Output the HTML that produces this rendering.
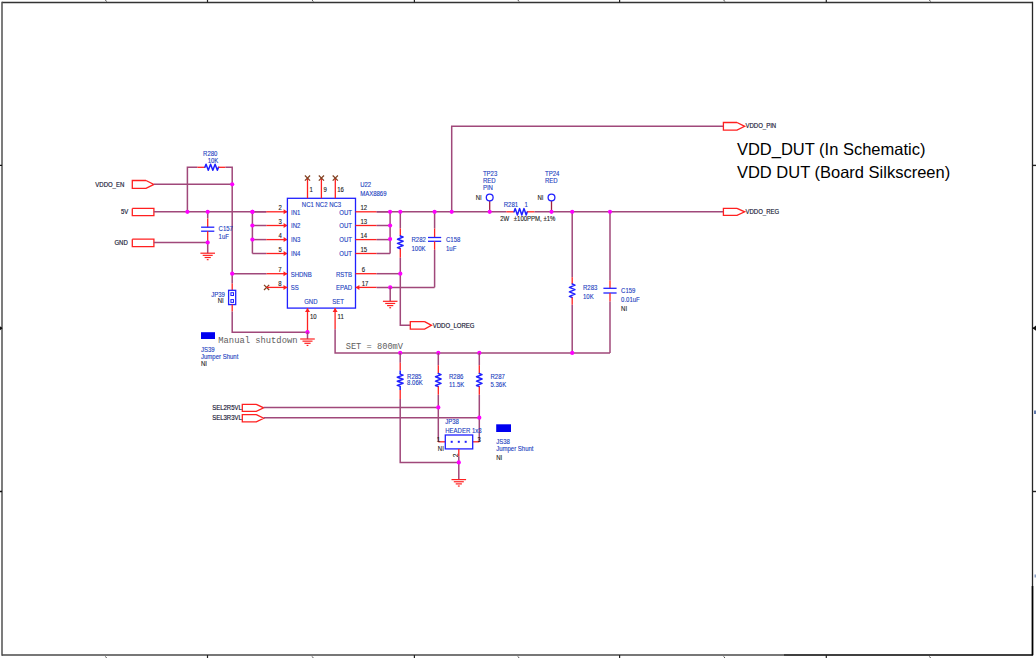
<!DOCTYPE html>
<html><head><meta charset="utf-8"><style>
html,body{margin:0;padding:0;background:#fff;width:1036px;height:658px;overflow:hidden}
svg{display:block}

</style></head><body>
<svg width="1036" height="658" viewBox="0 0 1036 658">
<line x1="2" y1="2.5" x2="1032.5" y2="2.5" stroke="#333" stroke-width="1.3"/>
<line x1="2" y1="1.85" x2="2" y2="655.65" stroke="#505050" stroke-width="1.5"/>
<line x1="1032.5" y1="1.85" x2="1032.5" y2="655.65" stroke="#262626" stroke-width="1.3"/>
<line x1="2" y1="655" x2="784" y2="655" stroke="#4a4a4a" stroke-width="1.3"/>
<line x1="784" y1="655" x2="1032.5" y2="655" stroke="#000" stroke-width="1.6"/>
<line x1="207.5" y1="0" x2="207.5" y2="2.5" stroke="#222" stroke-width="1.2"/>
<line x1="207.5" y1="655" x2="207.5" y2="658" stroke="#222" stroke-width="1.2"/>
<line x1="414.4" y1="0" x2="414.4" y2="2.5" stroke="#222" stroke-width="1.2"/>
<line x1="414.4" y1="655" x2="414.4" y2="658" stroke="#222" stroke-width="1.2"/>
<line x1="619.6" y1="0" x2="619.6" y2="2.5" stroke="#222" stroke-width="1.2"/>
<line x1="619.6" y1="655" x2="619.6" y2="658" stroke="#222" stroke-width="1.2"/>
<line x1="826.3" y1="0" x2="826.3" y2="2.5" stroke="#222" stroke-width="1.2"/>
<line x1="826.3" y1="655" x2="826.3" y2="658" stroke="#222" stroke-width="1.2"/>
<line x1="0" y1="165.4" x2="2" y2="165.4" stroke="#111" stroke-width="1.4"/>
<line x1="1032.5" y1="165.4" x2="1036" y2="165.4" stroke="#222" stroke-width="1.4"/>
<line x1="0" y1="328.2" x2="2" y2="328.2" stroke="#111" stroke-width="1.4"/>
<line x1="1032.5" y1="328.2" x2="1036" y2="328.2" stroke="#222" stroke-width="1.4"/>
<line x1="0" y1="491.5" x2="2" y2="491.5" stroke="#111" stroke-width="1.4"/>
<line x1="1032.5" y1="491.5" x2="1036" y2="491.5" stroke="#222" stroke-width="1.4"/>
<polyline points="146,180.5 132.3,180.5 132.3,188.3 146,188.3 153.9,184.4 146,180.5" stroke="#ff2020" stroke-width="1.3" fill="none" stroke-linejoin="miter"/>
<text x="124.3" y="187.4" font-size="6.6" fill="#202038" text-anchor="end" style="font-family:&quot;Liberation Sans&quot;" stroke="#202038" stroke-width="0.18" transform="matrix(0.91,0,0,1,11.187,0)" >VDDO_EN</text>
<polyline points="132.3,208.4 153.9,208.4 153.9,215.6 132.3,215.6 132.3,208.4" stroke="#ff2020" stroke-width="1.3" fill="none" stroke-linejoin="miter"/>
<text x="128.3" y="213.8" font-size="6.6" fill="#202038" text-anchor="end" style="font-family:&quot;Liberation Sans&quot;" stroke="#202038" stroke-width="0.18" transform="matrix(0.91,0,0,1,11.547,0)" >5V</text>
<polyline points="132.3,239.2 153.9,239.2 153.9,246.6 132.3,246.6 132.3,239.2" stroke="#ff2020" stroke-width="1.3" fill="none" stroke-linejoin="miter"/>
<text x="127.8" y="244.6" font-size="6.6" fill="#202038" text-anchor="end" style="font-family:&quot;Liberation Sans&quot;" stroke="#202038" stroke-width="0.18" transform="matrix(0.91,0,0,1,11.502,0)" >GND</text>
<line x1="153.9" y1="184.3" x2="232.2" y2="184.3" stroke="#a0487a" stroke-width="1.5"/>
<line x1="153.9" y1="211.8" x2="266.3" y2="211.8" stroke="#a0487a" stroke-width="1.5"/>
<line x1="153.9" y1="242.5" x2="207.7" y2="242.5" stroke="#a0487a" stroke-width="1.5"/>
<polyline points="187.4,211.8 187.4,167.3 197.4,167.3" stroke="#a0487a" stroke-width="1.5" fill="none" stroke-linejoin="miter"/>
<line x1="197.4" y1="167.3" x2="204.9" y2="167.3" stroke="#ff2020" stroke-width="1.3"/>
<polyline points="204.90,167.30 206.03,164.30 208.30,170.30 210.57,164.30 212.83,170.30 215.10,164.30 217.37,170.30 218.50,167.30" stroke="#2020ff" stroke-width="1.5" fill="none" stroke-linejoin="round" stroke-linecap="round"/>
<line x1="218.5" y1="167.3" x2="225.5" y2="167.3" stroke="#ff2020" stroke-width="1.3"/>
<polyline points="225.5,167.3 232.2,167.3 232.2,283.6" stroke="#a0487a" stroke-width="1.5" fill="none" stroke-linejoin="miter"/>
<text x="203.1" y="155.7" font-size="6.6" fill="#2040c0" text-anchor="start" style="font-family:&quot;Liberation Sans&quot;" stroke="#2040c0" stroke-width="0.12" transform="matrix(0.91,0,0,1,18.279,0)" >R280</text>
<text x="207.7" y="162.9" font-size="6.6" fill="#2040c0" text-anchor="start" style="font-family:&quot;Liberation Sans&quot;" stroke="#2040c0" stroke-width="0.12" transform="matrix(0.91,0,0,1,18.693,0)" >10K</text>
<line x1="207.7" y1="211.8" x2="207.7" y2="218.4" stroke="#a0487a" stroke-width="1.5"/>
<line x1="207.7" y1="218.4" x2="207.7" y2="227.2" stroke="#ff2020" stroke-width="1.3"/>
<line x1="201.1" y1="227.2" x2="214.29999999999998" y2="227.2" stroke="#2020ff" stroke-width="1.3"/>
<line x1="201.1" y1="231.2" x2="214.29999999999998" y2="231.2" stroke="#2020ff" stroke-width="1.3"/>
<line x1="207.7" y1="231.2" x2="207.7" y2="240" stroke="#ff2020" stroke-width="1.3"/>
<line x1="207.7" y1="240" x2="207.7" y2="253.2" stroke="#a0487a" stroke-width="1.5"/>
<line x1="200.39999999999998" y1="253.2" x2="215.0" y2="253.2" stroke="#ff2020" stroke-width="1.2"/>
<line x1="202.7" y1="255.35" x2="212.7" y2="255.35" stroke="#ff2020" stroke-width="1.2"/>
<line x1="204.6" y1="257.5" x2="210.79999999999998" y2="257.5" stroke="#ff2020" stroke-width="1.2"/>
<line x1="206.79999999999998" y1="259.65" x2="208.6" y2="259.65" stroke="#ff2020" stroke-width="1.2"/>
<text x="218.6" y="230.9" font-size="6.6" fill="#2040c0" text-anchor="start" style="font-family:&quot;Liberation Sans&quot;" stroke="#2040c0" stroke-width="0.12" transform="matrix(0.91,0,0,1,19.674,0)" >C157</text>
<text x="218.6" y="238.6" font-size="6.6" fill="#2040c0" text-anchor="start" style="font-family:&quot;Liberation Sans&quot;" stroke="#2040c0" stroke-width="0.12" transform="matrix(0.91,0,0,1,19.674,0)" >1uF</text>
<line x1="252.4" y1="211.8" x2="252.4" y2="253.5" stroke="#a0487a" stroke-width="1.5"/>
<line x1="252.4" y1="211.8" x2="266.3" y2="211.8" stroke="#a0487a" stroke-width="1.5"/>
<line x1="266.3" y1="211.8" x2="287.4" y2="211.8" stroke="#ff2020" stroke-width="1.3"/>
<polygon points="287.4,211.8 283.59999999999997,209.3 283.59999999999997,214.3" fill="#ff2020"/>
<text x="280.2" y="210.2" font-size="6.6" fill="#1a1a1a" text-anchor="middle" style="font-family:&quot;Liberation Sans&quot;" stroke="#1a1a1a" stroke-width="0.12" transform="matrix(0.91,0,0,1,25.218,0)" >2</text>
<text x="291" y="214.7" font-size="6.6" fill="#2040c0" text-anchor="start" style="font-family:&quot;Liberation Sans&quot;" stroke="#2040c0" stroke-width="0.12" transform="matrix(0.91,0,0,1,26.190,0)" >IN1</text>
<line x1="252.4" y1="225.5" x2="266.3" y2="225.5" stroke="#a0487a" stroke-width="1.5"/>
<line x1="266.3" y1="225.5" x2="287.4" y2="225.5" stroke="#ff2020" stroke-width="1.3"/>
<polygon points="287.4,225.5 283.59999999999997,223.0 283.59999999999997,228.0" fill="#ff2020"/>
<text x="280.2" y="223.9" font-size="6.6" fill="#1a1a1a" text-anchor="middle" style="font-family:&quot;Liberation Sans&quot;" stroke="#1a1a1a" stroke-width="0.12" transform="matrix(0.91,0,0,1,25.218,0)" >3</text>
<text x="291" y="228.4" font-size="6.6" fill="#2040c0" text-anchor="start" style="font-family:&quot;Liberation Sans&quot;" stroke="#2040c0" stroke-width="0.12" transform="matrix(0.91,0,0,1,26.190,0)" >IN2</text>
<line x1="252.4" y1="239.6" x2="266.3" y2="239.6" stroke="#a0487a" stroke-width="1.5"/>
<line x1="266.3" y1="239.6" x2="287.4" y2="239.6" stroke="#ff2020" stroke-width="1.3"/>
<polygon points="287.4,239.6 283.59999999999997,237.1 283.59999999999997,242.1" fill="#ff2020"/>
<text x="280.2" y="238.0" font-size="6.6" fill="#1a1a1a" text-anchor="middle" style="font-family:&quot;Liberation Sans&quot;" stroke="#1a1a1a" stroke-width="0.12" transform="matrix(0.91,0,0,1,25.218,0)" >4</text>
<text x="291" y="242.5" font-size="6.6" fill="#2040c0" text-anchor="start" style="font-family:&quot;Liberation Sans&quot;" stroke="#2040c0" stroke-width="0.12" transform="matrix(0.91,0,0,1,26.190,0)" >IN3</text>
<line x1="252.4" y1="253.5" x2="266.3" y2="253.5" stroke="#a0487a" stroke-width="1.5"/>
<line x1="266.3" y1="253.5" x2="287.4" y2="253.5" stroke="#ff2020" stroke-width="1.3"/>
<polygon points="287.4,253.5 283.59999999999997,251.0 283.59999999999997,256.0" fill="#ff2020"/>
<text x="280.2" y="251.9" font-size="6.6" fill="#1a1a1a" text-anchor="middle" style="font-family:&quot;Liberation Sans&quot;" stroke="#1a1a1a" stroke-width="0.12" transform="matrix(0.91,0,0,1,25.218,0)" >5</text>
<text x="291" y="256.4" font-size="6.6" fill="#2040c0" text-anchor="start" style="font-family:&quot;Liberation Sans&quot;" stroke="#2040c0" stroke-width="0.12" transform="matrix(0.91,0,0,1,26.190,0)" >IN4</text>
<circle cx="252.4" cy="211.8" r="2.1" fill="#ff00ff"/>
<circle cx="252.4" cy="225.5" r="2.1" fill="#ff00ff"/>
<circle cx="252.4" cy="239.6" r="2.1" fill="#ff00ff"/>
<rect x="287.4" y="198.3" width="68.1" height="109.8" stroke="#2020ff" stroke-width="1.3" fill="none"/>
<line x1="307.5" y1="178.1" x2="307.5" y2="198.3" stroke="#ff2020" stroke-width="1.3"/>
<line x1="304.9" y1="175.5" x2="310.1" y2="180.7" stroke="#804020" stroke-width="1.2"/>
<line x1="304.9" y1="180.7" x2="310.1" y2="175.5" stroke="#804020" stroke-width="1.2"/>
<text x="309.5" y="191.9" font-size="6.6" fill="#1a1a1a" text-anchor="start" style="font-family:&quot;Liberation Sans&quot;" stroke="#1a1a1a" stroke-width="0.12" transform="matrix(0.91,0,0,1,27.855,0)" >1</text>
<line x1="321.4" y1="178.1" x2="321.4" y2="198.3" stroke="#ff2020" stroke-width="1.3"/>
<line x1="318.79999999999995" y1="175.5" x2="324.0" y2="180.7" stroke="#804020" stroke-width="1.2"/>
<line x1="318.79999999999995" y1="180.7" x2="324.0" y2="175.5" stroke="#804020" stroke-width="1.2"/>
<text x="323.4" y="191.9" font-size="6.6" fill="#1a1a1a" text-anchor="start" style="font-family:&quot;Liberation Sans&quot;" stroke="#1a1a1a" stroke-width="0.12" transform="matrix(0.91,0,0,1,29.106,0)" >9</text>
<line x1="335.3" y1="178.1" x2="335.3" y2="198.3" stroke="#ff2020" stroke-width="1.3"/>
<line x1="332.7" y1="175.5" x2="337.90000000000003" y2="180.7" stroke="#804020" stroke-width="1.2"/>
<line x1="332.7" y1="180.7" x2="337.90000000000003" y2="175.5" stroke="#804020" stroke-width="1.2"/>
<text x="337.3" y="191.9" font-size="6.6" fill="#1a1a1a" text-anchor="start" style="font-family:&quot;Liberation Sans&quot;" stroke="#1a1a1a" stroke-width="0.12" transform="matrix(0.91,0,0,1,30.357,0)" >16</text>
<text x="321.5" y="206.9" font-size="6.6" fill="#2040c0" text-anchor="middle" style="font-family:&quot;Liberation Sans&quot;" stroke="#2040c0" stroke-width="0.12" transform="matrix(0.91,0,0,1,28.935,0)" >NC1 NC2 NC3</text>
<text x="360.2" y="186.9" font-size="6.6" fill="#2040c0" text-anchor="start" style="font-family:&quot;Liberation Sans&quot;" stroke="#2040c0" stroke-width="0.12" transform="matrix(0.91,0,0,1,32.418,0)" >U22</text>
<text x="360.2" y="195.7" font-size="6.6" fill="#2040c0" text-anchor="start" style="font-family:&quot;Liberation Sans&quot;" stroke="#2040c0" stroke-width="0.12" transform="matrix(0.91,0,0,1,32.418,0)" >MAX8869</text>
<line x1="355.5" y1="211.8" x2="376.7" y2="211.8" stroke="#ff2020" stroke-width="1.3"/>
<line x1="376.7" y1="211.8" x2="390.1" y2="211.8" stroke="#a0487a" stroke-width="1.5"/>
<text x="360.5" y="210.2" font-size="6.6" fill="#1a1a1a" text-anchor="start" style="font-family:&quot;Liberation Sans&quot;" stroke="#1a1a1a" stroke-width="0.12" transform="matrix(0.91,0,0,1,32.445,0)" >12</text>
<text x="352" y="214.7" font-size="6.6" fill="#2040c0" text-anchor="end" style="font-family:&quot;Liberation Sans&quot;" stroke="#2040c0" stroke-width="0.12" transform="matrix(0.91,0,0,1,31.680,0)" >OUT</text>
<line x1="355.5" y1="225.5" x2="376.7" y2="225.5" stroke="#ff2020" stroke-width="1.3"/>
<line x1="376.7" y1="225.5" x2="390.1" y2="225.5" stroke="#a0487a" stroke-width="1.5"/>
<text x="360.5" y="223.9" font-size="6.6" fill="#1a1a1a" text-anchor="start" style="font-family:&quot;Liberation Sans&quot;" stroke="#1a1a1a" stroke-width="0.12" transform="matrix(0.91,0,0,1,32.445,0)" >13</text>
<text x="352" y="228.4" font-size="6.6" fill="#2040c0" text-anchor="end" style="font-family:&quot;Liberation Sans&quot;" stroke="#2040c0" stroke-width="0.12" transform="matrix(0.91,0,0,1,31.680,0)" >OUT</text>
<line x1="355.5" y1="239.6" x2="376.7" y2="239.6" stroke="#ff2020" stroke-width="1.3"/>
<line x1="376.7" y1="239.6" x2="390.1" y2="239.6" stroke="#a0487a" stroke-width="1.5"/>
<text x="360.5" y="238.0" font-size="6.6" fill="#1a1a1a" text-anchor="start" style="font-family:&quot;Liberation Sans&quot;" stroke="#1a1a1a" stroke-width="0.12" transform="matrix(0.91,0,0,1,32.445,0)" >14</text>
<text x="352" y="242.5" font-size="6.6" fill="#2040c0" text-anchor="end" style="font-family:&quot;Liberation Sans&quot;" stroke="#2040c0" stroke-width="0.12" transform="matrix(0.91,0,0,1,31.680,0)" >OUT</text>
<line x1="355.5" y1="253.5" x2="376.7" y2="253.5" stroke="#ff2020" stroke-width="1.3"/>
<line x1="376.7" y1="253.5" x2="390.1" y2="253.5" stroke="#a0487a" stroke-width="1.5"/>
<text x="360.5" y="251.9" font-size="6.6" fill="#1a1a1a" text-anchor="start" style="font-family:&quot;Liberation Sans&quot;" stroke="#1a1a1a" stroke-width="0.12" transform="matrix(0.91,0,0,1,32.445,0)" >15</text>
<text x="352" y="256.4" font-size="6.6" fill="#2040c0" text-anchor="end" style="font-family:&quot;Liberation Sans&quot;" stroke="#2040c0" stroke-width="0.12" transform="matrix(0.91,0,0,1,31.680,0)" >OUT</text>
<line x1="390.1" y1="211.8" x2="390.1" y2="253.5" stroke="#a0487a" stroke-width="1.5"/>
<line x1="232.2" y1="273.7" x2="266.6" y2="273.7" stroke="#a0487a" stroke-width="1.5"/>
<line x1="266.6" y1="273.7" x2="287.3" y2="273.7" stroke="#ff2020" stroke-width="1.3"/>
<polygon points="287.3,273.7 283.5,271.2 283.5,276.2" fill="#ff2020"/>
<text x="280" y="272.0" font-size="6.6" fill="#1a1a1a" text-anchor="middle" style="font-family:&quot;Liberation Sans&quot;" stroke="#1a1a1a" stroke-width="0.12" transform="matrix(0.91,0,0,1,25.200,0)" >7</text>
<text x="290.7" y="276.6" font-size="6.6" fill="#2040c0" text-anchor="start" style="font-family:&quot;Liberation Sans&quot;" stroke="#2040c0" stroke-width="0.12" transform="matrix(0.91,0,0,1,26.163,0)" >SHDNB</text>
<circle cx="232.2" cy="273.7" r="2.1" fill="#ff00ff"/>
<line x1="264.0" y1="284.79999999999995" x2="269.20000000000005" y2="290.0" stroke="#804020" stroke-width="1.2"/>
<line x1="264.0" y1="290.0" x2="269.20000000000005" y2="284.79999999999995" stroke="#804020" stroke-width="1.2"/>
<line x1="266.6" y1="287.4" x2="287.3" y2="287.4" stroke="#ff2020" stroke-width="1.3"/>
<polygon points="287.3,287.4 283.5,284.9 283.5,289.9" fill="#ff2020"/>
<text x="280" y="286.0" font-size="6.6" fill="#1a1a1a" text-anchor="middle" style="font-family:&quot;Liberation Sans&quot;" stroke="#1a1a1a" stroke-width="0.12" transform="matrix(0.91,0,0,1,25.200,0)" >8</text>
<text x="290.7" y="290.2" font-size="6.6" fill="#2040c0" text-anchor="start" style="font-family:&quot;Liberation Sans&quot;" stroke="#2040c0" stroke-width="0.12" transform="matrix(0.91,0,0,1,26.163,0)" >SS</text>
<line x1="355.6" y1="273.7" x2="376.6" y2="273.7" stroke="#ff2020" stroke-width="1.3"/>
<line x1="376.6" y1="273.7" x2="400.3" y2="273.7" stroke="#a0487a" stroke-width="1.5"/>
<text x="361.8" y="272.0" font-size="6.6" fill="#1a1a1a" text-anchor="start" style="font-family:&quot;Liberation Sans&quot;" stroke="#1a1a1a" stroke-width="0.12" transform="matrix(0.91,0,0,1,32.562,0)" >6</text>
<text x="352" y="276.6" font-size="6.6" fill="#2040c0" text-anchor="end" style="font-family:&quot;Liberation Sans&quot;" stroke="#2040c0" stroke-width="0.12" transform="matrix(0.91,0,0,1,31.680,0)" >RSTB</text>
<line x1="355.6" y1="287.4" x2="376.6" y2="287.4" stroke="#ff2020" stroke-width="1.3"/>
<polygon points="355.6,287.4 359.40000000000003,284.9 359.40000000000003,289.9" fill="#ff2020"/>
<line x1="376.6" y1="287.4" x2="434.6" y2="287.4" stroke="#a0487a" stroke-width="1.5"/>
<text x="361.8" y="286.0" font-size="6.6" fill="#1a1a1a" text-anchor="start" style="font-family:&quot;Liberation Sans&quot;" stroke="#1a1a1a" stroke-width="0.12" transform="matrix(0.91,0,0,1,32.562,0)" >17</text>
<text x="352" y="290.2" font-size="6.6" fill="#2040c0" text-anchor="end" style="font-family:&quot;Liberation Sans&quot;" stroke="#2040c0" stroke-width="0.12" transform="matrix(0.91,0,0,1,31.680,0)" >EPAD</text>
<text x="304.2" y="304.4" font-size="6.6" fill="#2040c0" text-anchor="start" style="font-family:&quot;Liberation Sans&quot;" stroke="#2040c0" stroke-width="0.12" transform="matrix(0.91,0,0,1,27.378,0)" >GND</text>
<text x="332.2" y="304.4" font-size="6.6" fill="#2040c0" text-anchor="start" style="font-family:&quot;Liberation Sans&quot;" stroke="#2040c0" stroke-width="0.12" transform="matrix(0.91,0,0,1,29.898,0)" >SET</text>
<circle cx="390.2" cy="287.4" r="2.1" fill="#ff00ff"/>
<line x1="390.2" y1="287.4" x2="390.2" y2="301.3" stroke="#a0487a" stroke-width="1.5"/>
<line x1="382.9" y1="301.3" x2="397.5" y2="301.3" stroke="#ff2020" stroke-width="1.2"/>
<line x1="385.2" y1="303.45" x2="395.2" y2="303.45" stroke="#ff2020" stroke-width="1.2"/>
<line x1="387.09999999999997" y1="305.6" x2="393.3" y2="305.6" stroke="#ff2020" stroke-width="1.2"/>
<line x1="389.3" y1="307.75" x2="391.09999999999997" y2="307.75" stroke="#ff2020" stroke-width="1.2"/>
<line x1="232.2" y1="283.6" x2="232.2" y2="290.3" stroke="#ff2020" stroke-width="1.3"/>
<rect x="228.6" y="290.3" width="7.1" height="14.3" stroke="#2020ff" stroke-width="1.3" fill="none"/>
<rect x="230.9" y="292.7" width="2.6" height="2.8" stroke="#2020ff" stroke-width="1.0" fill="none"/>
<rect x="230.9" y="299.6" width="2.6" height="2.8" stroke="#2020ff" stroke-width="1.0" fill="none"/>
<line x1="232.2" y1="304.6" x2="232.2" y2="311.6" stroke="#ff2020" stroke-width="1.3"/>
<polyline points="232.2,311.6 232.2,332.2 307.5,332.2" stroke="#a0487a" stroke-width="1.5" fill="none" stroke-linejoin="miter"/>
<text x="224.9" y="296.6" font-size="6.6" fill="#2040c0" text-anchor="end" style="font-family:&quot;Liberation Sans&quot;" stroke="#2040c0" stroke-width="0.12" transform="matrix(0.91,0,0,1,20.241,0)" >JP39</text>
<text x="223.8" y="303.5" font-size="6.6" fill="#1a1a1a" text-anchor="end" style="font-family:&quot;Liberation Sans&quot;" stroke="#1a1a1a" stroke-width="0.12" transform="matrix(0.91,0,0,1,20.142,0)" >NI</text>
<line x1="307.5" y1="308.1" x2="307.5" y2="332.2" stroke="#ff2020" stroke-width="1.3"/>
<polygon points="307.5,308.1 305.0,311.90000000000003 310.0,311.90000000000003" fill="#ff2020"/>
<text x="310" y="319.4" font-size="6.6" fill="#1a1a1a" text-anchor="start" style="font-family:&quot;Liberation Sans&quot;" stroke="#1a1a1a" stroke-width="0.12" transform="matrix(0.91,0,0,1,27.900,0)" >10</text>
<circle cx="307.5" cy="332.2" r="2.1" fill="#ff00ff"/>
<line x1="307.5" y1="332.2" x2="307.5" y2="339" stroke="#a0487a" stroke-width="1.5"/>
<line x1="300.2" y1="339.0" x2="314.8" y2="339.0" stroke="#ff2020" stroke-width="1.2"/>
<line x1="302.5" y1="341.15" x2="312.5" y2="341.15" stroke="#ff2020" stroke-width="1.2"/>
<line x1="304.4" y1="343.3" x2="310.6" y2="343.3" stroke="#ff2020" stroke-width="1.2"/>
<line x1="306.6" y1="345.45" x2="308.4" y2="345.45" stroke="#ff2020" stroke-width="1.2"/>
<line x1="335.1" y1="308.1" x2="335.1" y2="329.3" stroke="#ff2020" stroke-width="1.3"/>
<polygon points="335.1,308.1 332.6,311.90000000000003 337.6,311.90000000000003" fill="#ff2020"/>
<text x="337.5" y="319.4" font-size="6.6" fill="#1a1a1a" text-anchor="start" style="font-family:&quot;Liberation Sans&quot;" stroke="#1a1a1a" stroke-width="0.12" transform="matrix(0.91,0,0,1,30.375,0)" >11</text>
<polyline points="335.1,329.3 335.1,352.9 610,352.9" stroke="#a0487a" stroke-width="1.5" fill="none" stroke-linejoin="miter"/>
<rect x="201" y="332.2" width="14" height="6.8" stroke="#0000f0" stroke-width="0" fill="#0000f0"/>
<text x="218.3" y="343.4" font-size="8.8" fill="#606060" text-anchor="start" style="font-family:&quot;Liberation Mono&quot;" stroke="#606060" stroke-width="0"  >Manual shutdown</text>
<text x="201" y="352.2" font-size="6.6" fill="#2040c0" text-anchor="start" style="font-family:&quot;Liberation Sans&quot;" stroke="#2040c0" stroke-width="0.12" transform="matrix(0.91,0,0,1,18.090,0)" >JS39</text>
<text x="201" y="358.9" font-size="6.6" fill="#2040c0" text-anchor="start" style="font-family:&quot;Liberation Sans&quot;" stroke="#2040c0" stroke-width="0.12" transform="matrix(0.91,0,0,1,18.090,0)" >Jumper Shunt</text>
<text x="201" y="366.5" font-size="6.6" fill="#1a1a1a" text-anchor="start" style="font-family:&quot;Liberation Sans&quot;" stroke="#1a1a1a" stroke-width="0.12" transform="matrix(0.91,0,0,1,18.090,0)" >NI</text>
<text x="345.7" y="349.4" font-size="8.7" fill="#606060" text-anchor="start" style="font-family:&quot;Liberation Mono&quot;" stroke="#606060" stroke-width="0"  >SET = 800mV</text>
<line x1="376.7" y1="211.8" x2="506.4" y2="211.8" stroke="#a0487a" stroke-width="1.5"/>
<line x1="506.4" y1="211.8" x2="514.1" y2="211.8" stroke="#ff2020" stroke-width="1.3"/>
<polyline points="514.10,211.80 515.20,208.60 517.40,215.00 519.60,208.60 521.80,215.00 524.00,208.60 526.20,215.00 527.30,211.80" stroke="#2020ff" stroke-width="1.5" fill="none" stroke-linejoin="round" stroke-linecap="round"/>
<line x1="527.3" y1="211.8" x2="534.5" y2="211.8" stroke="#ff2020" stroke-width="1.3"/>
<line x1="534.5" y1="211.8" x2="723.4" y2="211.8" stroke="#a0487a" stroke-width="1.5"/>
<polyline points="737,208.3 723.4,208.3 723.4,215.3 737,215.3 744.7,211.8 737,208.3" stroke="#ff2020" stroke-width="1.3" fill="none" stroke-linejoin="miter"/>
<text x="745.5" y="213.8" font-size="6.6" fill="#202038" text-anchor="start" style="font-family:&quot;Liberation Sans&quot;" stroke="#202038" stroke-width="0.18" transform="matrix(0.91,0,0,1,67.095,0)" >VDDO_REG</text>
<polyline points="451.7,211.8 451.7,126.2 723.4,126.2" stroke="#a0487a" stroke-width="1.5" fill="none" stroke-linejoin="miter"/>
<polyline points="737,122.5 723.4,122.5 723.4,130.1 737,130.1 744.7,126.3 737,122.5" stroke="#ff2020" stroke-width="1.3" fill="none" stroke-linejoin="miter"/>
<text x="745.5" y="128.2" font-size="6.6" fill="#202038" text-anchor="start" style="font-family:&quot;Liberation Sans&quot;" stroke="#202038" stroke-width="0.18" transform="matrix(0.91,0,0,1,67.095,0)" >VDDO_PIN</text>
<line x1="400.3" y1="211.8" x2="400.3" y2="228.5" stroke="#a0487a" stroke-width="1.5"/>
<line x1="400.3" y1="228.5" x2="400.3" y2="236" stroke="#ff2020" stroke-width="1.3"/>
<polyline points="400.30,236.00 403.10,237.06 397.50,239.18 403.10,241.29 397.50,243.41 403.10,245.52 397.50,247.64 400.30,248.70" stroke="#2020ff" stroke-width="1.5" fill="none" stroke-linejoin="round" stroke-linecap="round"/>
<line x1="400.3" y1="248.7" x2="400.3" y2="257.8" stroke="#ff2020" stroke-width="1.3"/>
<polyline points="400.3,257.8 400.3,325.3 410.3,325.3" stroke="#a0487a" stroke-width="1.5" fill="none" stroke-linejoin="miter"/>
<circle cx="400.3" cy="273.7" r="2.1" fill="#ff00ff"/>
<text x="411.5" y="241.7" font-size="6.6" fill="#2040c0" text-anchor="start" style="font-family:&quot;Liberation Sans&quot;" stroke="#2040c0" stroke-width="0.12" transform="matrix(0.91,0,0,1,37.035,0)" >R282</text>
<text x="411.5" y="250.6" font-size="6.6" fill="#2040c0" text-anchor="start" style="font-family:&quot;Liberation Sans&quot;" stroke="#2040c0" stroke-width="0.12" transform="matrix(0.91,0,0,1,37.035,0)" >100K</text>
<polyline points="424.6,321.6 410.3,321.6 410.3,329.1 424.6,329.1 431.5,325.35 424.6,321.6" stroke="#ff2020" stroke-width="1.3" fill="none" stroke-linejoin="miter"/>
<text x="432.8" y="328.3" font-size="6.6" fill="#202038" text-anchor="start" style="font-family:&quot;Liberation Sans&quot;" stroke="#202038" stroke-width="0.18" transform="matrix(0.91,0,0,1,38.952,0)" >VDDO_LOREG</text>
<line x1="434.6" y1="211.8" x2="434.6" y2="228.5" stroke="#a0487a" stroke-width="1.5"/>
<line x1="434.6" y1="228.5" x2="434.6" y2="237.5" stroke="#ff2020" stroke-width="1.3"/>
<line x1="428.0" y1="237.5" x2="441.20000000000005" y2="237.5" stroke="#2020ff" stroke-width="1.3"/>
<line x1="428.0" y1="241.3" x2="441.20000000000005" y2="241.3" stroke="#2020ff" stroke-width="1.3"/>
<line x1="434.6" y1="241.3" x2="434.6" y2="249.8" stroke="#ff2020" stroke-width="1.3"/>
<polyline points="434.6,249.8 434.6,287.4" stroke="#a0487a" stroke-width="1.5" fill="none" stroke-linejoin="miter"/>
<text x="446" y="241.7" font-size="6.6" fill="#2040c0" text-anchor="start" style="font-family:&quot;Liberation Sans&quot;" stroke="#2040c0" stroke-width="0.12" transform="matrix(0.91,0,0,1,40.140,0)" >C158</text>
<text x="446" y="250.6" font-size="6.6" fill="#2040c0" text-anchor="start" style="font-family:&quot;Liberation Sans&quot;" stroke="#2040c0" stroke-width="0.12" transform="matrix(0.91,0,0,1,40.140,0)" >1uF</text>
<circle cx="390.1" cy="211.8" r="2.1" fill="#ff00ff"/>
<circle cx="400.3" cy="211.8" r="2.1" fill="#ff00ff"/>
<circle cx="434.6" cy="211.8" r="2.1" fill="#ff00ff"/>
<circle cx="451.7" cy="211.8" r="2.1" fill="#ff00ff"/>
<circle cx="390.1" cy="225.5" r="2.1" fill="#ff00ff"/>
<circle cx="390.1" cy="239.1" r="2.1" fill="#ff00ff"/>
<line x1="489.7" y1="201" x2="489.7" y2="211.8" stroke="#a02040" stroke-width="1.3"/>
<circle cx="489.7" cy="197.5" r="3.4" stroke="#2020ff" stroke-width="1.3" fill="none"/>
<circle cx="489.7" cy="211.8" r="2.1" fill="#ff00ff"/>
<line x1="551.5" y1="201" x2="551.5" y2="211.8" stroke="#a02040" stroke-width="1.3"/>
<circle cx="551.5" cy="197.5" r="3.4" stroke="#2020ff" stroke-width="1.3" fill="none"/>
<circle cx="551.5" cy="211.8" r="2.1" fill="#ff00ff"/>
<text x="482.9" y="176.5" font-size="6.6" fill="#2040c0" text-anchor="start" style="font-family:&quot;Liberation Sans&quot;" stroke="#2040c0" stroke-width="0.12" transform="matrix(0.91,0,0,1,43.461,0)" >TP23</text>
<text x="482.9" y="183.3" font-size="6.6" fill="#2040c0" text-anchor="start" style="font-family:&quot;Liberation Sans&quot;" stroke="#2040c0" stroke-width="0.12" transform="matrix(0.91,0,0,1,43.461,0)" >RED</text>
<text x="482.9" y="190.1" font-size="6.6" fill="#2040c0" text-anchor="start" style="font-family:&quot;Liberation Sans&quot;" stroke="#2040c0" stroke-width="0.12" transform="matrix(0.91,0,0,1,43.461,0)" >PIN</text>
<text x="481.7" y="200.0" font-size="6.6" fill="#1a1a1a" text-anchor="end" style="font-family:&quot;Liberation Sans&quot;" stroke="#1a1a1a" stroke-width="0.12" transform="matrix(0.91,0,0,1,43.353,0)" >NI</text>
<text x="545" y="176.5" font-size="6.6" fill="#2040c0" text-anchor="start" style="font-family:&quot;Liberation Sans&quot;" stroke="#2040c0" stroke-width="0.12" transform="matrix(0.91,0,0,1,49.050,0)" >TP24</text>
<text x="545" y="183.3" font-size="6.6" fill="#2040c0" text-anchor="start" style="font-family:&quot;Liberation Sans&quot;" stroke="#2040c0" stroke-width="0.12" transform="matrix(0.91,0,0,1,49.050,0)" >RED</text>
<text x="543.5" y="200.0" font-size="6.6" fill="#1a1a1a" text-anchor="end" style="font-family:&quot;Liberation Sans&quot;" stroke="#1a1a1a" stroke-width="0.12" transform="matrix(0.91,0,0,1,48.915,0)" >NI</text>
<text x="503.8" y="207.1" font-size="6.6" fill="#2040c0" text-anchor="start" style="font-family:&quot;Liberation Sans&quot;" stroke="#2040c0" stroke-width="0.12" transform="matrix(0.91,0,0,1,45.342,0)" >R281</text>
<text x="524.4" y="207.1" font-size="6.6" fill="#2040c0" text-anchor="start" style="font-family:&quot;Liberation Sans&quot;" stroke="#2040c0" stroke-width="0.12" transform="matrix(0.91,0,0,1,47.196,0)" >1</text>
<text x="500.2" y="220.6" font-size="6.6" fill="#1a1a1a" text-anchor="start" style="font-family:&quot;Liberation Sans&quot;" stroke="#1a1a1a" stroke-width="0.12" transform="matrix(0.91,0,0,1,45.018,0)" >2W</text>
<text x="513.8" y="220.6" font-size="6.6" fill="#1a1a1a" text-anchor="start" style="font-family:&quot;Liberation Sans&quot;" stroke="#1a1a1a" stroke-width="0.12" transform="matrix(0.91,0,0,1,46.242,0)" >±100PPM, ±1%</text>
<line x1="572.2" y1="211.8" x2="572.2" y2="277.2" stroke="#a0487a" stroke-width="1.5"/>
<line x1="572.2" y1="277.2" x2="572.2" y2="284" stroke="#ff2020" stroke-width="1.3"/>
<polyline points="572.20,284.00 575.00,285.12 569.40,287.38 575.00,289.62 569.40,291.88 575.00,294.12 569.40,296.38 572.20,297.50" stroke="#2020ff" stroke-width="1.5" fill="none" stroke-linejoin="round" stroke-linecap="round"/>
<line x1="572.2" y1="297.5" x2="572.2" y2="304.7" stroke="#ff2020" stroke-width="1.3"/>
<line x1="572.2" y1="304.7" x2="572.2" y2="352.9" stroke="#a0487a" stroke-width="1.5"/>
<circle cx="572.2" cy="211.8" r="2.1" fill="#ff00ff"/>
<circle cx="572.2" cy="352.9" r="2.1" fill="#ff00ff"/>
<text x="583" y="289.9" font-size="6.6" fill="#2040c0" text-anchor="start" style="font-family:&quot;Liberation Sans&quot;" stroke="#2040c0" stroke-width="0.12" transform="matrix(0.91,0,0,1,52.470,0)" >R283</text>
<text x="583" y="298.7" font-size="6.6" fill="#2040c0" text-anchor="start" style="font-family:&quot;Liberation Sans&quot;" stroke="#2040c0" stroke-width="0.12" transform="matrix(0.91,0,0,1,52.470,0)" >10K</text>
<line x1="610" y1="211.8" x2="610" y2="280.6" stroke="#a0487a" stroke-width="1.5"/>
<line x1="610" y1="280.6" x2="610" y2="288.3" stroke="#ff2020" stroke-width="1.3"/>
<line x1="603.4" y1="288.3" x2="616.6" y2="288.3" stroke="#2020ff" stroke-width="1.3"/>
<line x1="603.4" y1="293" x2="616.6" y2="293" stroke="#2020ff" stroke-width="1.3"/>
<line x1="610" y1="293" x2="610" y2="301.4" stroke="#ff2020" stroke-width="1.3"/>
<line x1="610" y1="301.4" x2="610" y2="352.9" stroke="#a0487a" stroke-width="1.5"/>
<circle cx="610" cy="211.8" r="2.1" fill="#ff00ff"/>
<text x="621.1" y="293.1" font-size="6.6" fill="#2040c0" text-anchor="start" style="font-family:&quot;Liberation Sans&quot;" stroke="#2040c0" stroke-width="0.12" transform="matrix(0.91,0,0,1,55.899,0)" >C159</text>
<text x="621.1" y="301.7" font-size="6.6" fill="#2040c0" text-anchor="start" style="font-family:&quot;Liberation Sans&quot;" stroke="#2040c0" stroke-width="0.12" transform="matrix(0.91,0,0,1,55.899,0)" >0.01uF</text>
<text x="621.1" y="310.7" font-size="6.6" fill="#1a1a1a" text-anchor="start" style="font-family:&quot;Liberation Sans&quot;" stroke="#1a1a1a" stroke-width="0.12" transform="matrix(0.91,0,0,1,55.899,0)" >NI</text>
<text x="736.9" y="155.3" font-size="16.5" fill="#000" text-anchor="start" style="font-family:&quot;Liberation Sans&quot;" stroke="#000" stroke-width="0"  >VDD_DUT (In Schematic)</text>
<text x="736.9" y="178.4" font-size="16.5" fill="#000" text-anchor="start" style="font-family:&quot;Liberation Sans&quot;" stroke="#000" stroke-width="0"  >VDD DUT (Board Silkscreen)</text>
<circle cx="400.2" cy="352.9" r="2.1" fill="#ff00ff"/>
<circle cx="438.3" cy="352.9" r="2.1" fill="#ff00ff"/>
<circle cx="479.3" cy="352.9" r="2.1" fill="#ff00ff"/>
<line x1="400.2" y1="352.9" x2="400.2" y2="362.8" stroke="#a0487a" stroke-width="1.5"/>
<line x1="400.2" y1="362.8" x2="400.2" y2="370.4" stroke="#ff2020" stroke-width="1.3"/>
<line x1="400.2" y1="370.4" x2="400.2" y2="374.1" stroke="#2020ff" stroke-width="1.5"/>
<polyline points="400.20,374.10 403.10,375.12 397.30,377.18 403.10,379.23 397.30,381.27 403.10,383.32 397.30,385.38 400.20,386.40" stroke="#2020ff" stroke-width="1.5" fill="none" stroke-linejoin="round" stroke-linecap="round"/>
<line x1="400.2" y1="386.4" x2="400.2" y2="389.9" stroke="#2020ff" stroke-width="1.5"/>
<line x1="400.2" y1="389.9" x2="400.2" y2="398.9" stroke="#ff2020" stroke-width="1.3"/>
<polyline points="400.2,398.9 400.2,462.4 458.8,462.4" stroke="#a0487a" stroke-width="1.5" fill="none" stroke-linejoin="miter"/>
<text x="407.1" y="378.7" font-size="6.6" fill="#2040c0" text-anchor="start" style="font-family:&quot;Liberation Sans&quot;" stroke="#2040c0" stroke-width="0.12" transform="matrix(0.91,0,0,1,36.639,0)" >R285</text>
<text x="407.1" y="384.7" font-size="6.6" fill="#2040c0" text-anchor="start" style="font-family:&quot;Liberation Sans&quot;" stroke="#2040c0" stroke-width="0.12" transform="matrix(0.91,0,0,1,36.639,0)" >8.06K</text>
<line x1="438.3" y1="352.9" x2="438.3" y2="365.3" stroke="#a0487a" stroke-width="1.5"/>
<line x1="438.3" y1="365.3" x2="438.3" y2="373.5" stroke="#ff2020" stroke-width="1.3"/>
<polyline points="438.30,373.50 441.10,374.59 435.50,376.77 441.10,378.96 435.50,381.14 441.10,383.33 435.50,385.51 438.30,386.60" stroke="#2020ff" stroke-width="1.5" fill="none" stroke-linejoin="round" stroke-linecap="round"/>
<line x1="438.3" y1="386.6" x2="438.3" y2="394.8" stroke="#ff2020" stroke-width="1.3"/>
<polyline points="438.3,394.8 438.3,441.8" stroke="#a0487a" stroke-width="1.5" fill="none" stroke-linejoin="miter"/>
<line x1="438.3" y1="441.8" x2="445.3" y2="441.8" stroke="#ff2020" stroke-width="1.3"/>
<text x="449" y="378.7" font-size="6.6" fill="#2040c0" text-anchor="start" style="font-family:&quot;Liberation Sans&quot;" stroke="#2040c0" stroke-width="0.12" transform="matrix(0.91,0,0,1,40.410,0)" >R286</text>
<text x="449" y="387.5" font-size="6.6" fill="#2040c0" text-anchor="start" style="font-family:&quot;Liberation Sans&quot;" stroke="#2040c0" stroke-width="0.12" transform="matrix(0.91,0,0,1,40.410,0)" >11.5K</text>
<line x1="479.3" y1="352.9" x2="479.3" y2="365.3" stroke="#a0487a" stroke-width="1.5"/>
<line x1="479.3" y1="365.3" x2="479.3" y2="373.5" stroke="#ff2020" stroke-width="1.3"/>
<polyline points="479.30,373.50 482.10,374.59 476.50,376.77 482.10,378.96 476.50,381.14 482.10,383.33 476.50,385.51 479.30,386.60" stroke="#2020ff" stroke-width="1.5" fill="none" stroke-linejoin="round" stroke-linecap="round"/>
<line x1="479.3" y1="386.6" x2="479.3" y2="394.8" stroke="#ff2020" stroke-width="1.3"/>
<polyline points="479.3,394.8 479.3,441.8" stroke="#a0487a" stroke-width="1.5" fill="none" stroke-linejoin="miter"/>
<line x1="479.3" y1="441.8" x2="472.7" y2="441.8" stroke="#ff2020" stroke-width="1.3"/>
<text x="490.5" y="378.7" font-size="6.6" fill="#2040c0" text-anchor="start" style="font-family:&quot;Liberation Sans&quot;" stroke="#2040c0" stroke-width="0.12" transform="matrix(0.91,0,0,1,44.145,0)" >R287</text>
<text x="490.5" y="387.5" font-size="6.6" fill="#2040c0" text-anchor="start" style="font-family:&quot;Liberation Sans&quot;" stroke="#2040c0" stroke-width="0.12" transform="matrix(0.91,0,0,1,44.145,0)" >5.36K</text>
<polyline points="256.3,404.3 242.3,404.3 242.3,411.4 256.3,411.4 263.7,407.85 256.3,404.3" stroke="#ff2020" stroke-width="1.3" fill="none" stroke-linejoin="miter"/>
<text x="241.8" y="409.8" font-size="6.6" fill="#202038" text-anchor="end" style="font-family:&quot;Liberation Sans&quot;" stroke="#202038" stroke-width="0.18" transform="matrix(0.91,0,0,1,21.762,0)" >SEL2R5VL</text>
<polyline points="256.3,414.6 242.3,414.6 242.3,421.9 256.3,421.9 263.7,418.25 256.3,414.6" stroke="#ff2020" stroke-width="1.3" fill="none" stroke-linejoin="miter"/>
<text x="241.8" y="420.1" font-size="6.6" fill="#202038" text-anchor="end" style="font-family:&quot;Liberation Sans&quot;" stroke="#202038" stroke-width="0.18" transform="matrix(0.91,0,0,1,21.762,0)" >SEL3R3VL</text>
<line x1="263.7" y1="407.4" x2="438.3" y2="407.4" stroke="#a0487a" stroke-width="1.5"/>
<circle cx="438.3" cy="407.4" r="2.1" fill="#ff00ff"/>
<line x1="263.7" y1="417.7" x2="479.3" y2="417.7" stroke="#a0487a" stroke-width="1.5"/>
<circle cx="479.3" cy="417.7" r="2.1" fill="#ff00ff"/>
<rect x="445.3" y="435" width="27.4" height="13.9" stroke="#2020ff" stroke-width="1.3" fill="none"/>
<rect x="450.7" y="440.8" width="2" height="2" stroke="#2020ff" stroke-width="0" fill="#2020ff"/>
<rect x="457.8" y="440.8" width="2" height="2" stroke="#2020ff" stroke-width="0" fill="#2020ff"/>
<rect x="464.7" y="440.8" width="2" height="2" stroke="#2020ff" stroke-width="0" fill="#2020ff"/>
<text x="438.3" y="441.6" font-size="6.6" fill="#1a1a1a" text-anchor="middle" style="font-family:&quot;Liberation Sans&quot;" stroke="#1a1a1a" stroke-width="0.12" transform="matrix(0.91,0,0,1,39.447,0)" >1</text>
<text x="479.3" y="441.6" font-size="6.6" fill="#1a1a1a" text-anchor="middle" style="font-family:&quot;Liberation Sans&quot;" stroke="#1a1a1a" stroke-width="0.12" transform="matrix(0.91,0,0,1,43.137,0)" >3</text>
<text x="445.3" y="424.0" font-size="6.6" fill="#2040c0" text-anchor="start" style="font-family:&quot;Liberation Sans&quot;" stroke="#2040c0" stroke-width="0.12" transform="matrix(0.91,0,0,1,40.077,0)" >JP38</text>
<text x="445.3" y="433.1" font-size="6.6" fill="#2040c0" text-anchor="start" style="font-family:&quot;Liberation Sans&quot;" stroke="#2040c0" stroke-width="0.12" transform="matrix(0.91,0,0,1,40.077,0)" >HEADER 1x3</text>
<text x="437.8" y="451.4" font-size="6.6" fill="#1a1a1a" text-anchor="start" style="font-family:&quot;Liberation Sans&quot;" stroke="#1a1a1a" stroke-width="0.12" transform="matrix(0.91,0,0,1,39.402,0)" >NI</text>
<text x="458" y="455.4" font-size="6.6" fill="#1a1a1a" text-anchor="middle" style="font-family:&quot;Liberation Sans&quot;" stroke="#1a1a1a" stroke-width="0.12"  transform="rotate(-90 458 455.5)">2</text>
<line x1="458.8" y1="448.9" x2="458.8" y2="456.6" stroke="#ff2020" stroke-width="1.3"/>
<line x1="458.8" y1="456.6" x2="458.8" y2="479.6" stroke="#a0487a" stroke-width="1.5"/>
<circle cx="458.8" cy="462.4" r="2.1" fill="#ff00ff"/>
<line x1="451.5" y1="479.6" x2="466.1" y2="479.6" stroke="#ff2020" stroke-width="1.2"/>
<line x1="453.8" y1="481.75" x2="463.8" y2="481.75" stroke="#ff2020" stroke-width="1.2"/>
<line x1="455.7" y1="483.90000000000003" x2="461.90000000000003" y2="483.90000000000003" stroke="#ff2020" stroke-width="1.2"/>
<line x1="457.90000000000003" y1="486.05" x2="459.7" y2="486.05" stroke="#ff2020" stroke-width="1.2"/>
<rect x="496.2" y="424.3" width="14.8" height="7.7" stroke="#0000f0" stroke-width="0" fill="#0000f0"/>
<text x="496.2" y="444.5" font-size="6.6" fill="#2040c0" text-anchor="start" style="font-family:&quot;Liberation Sans&quot;" stroke="#2040c0" stroke-width="0.12" transform="matrix(0.91,0,0,1,44.658,0)" >JS38</text>
<text x="496.2" y="450.9" font-size="6.6" fill="#2040c0" text-anchor="start" style="font-family:&quot;Liberation Sans&quot;" stroke="#2040c0" stroke-width="0.12" transform="matrix(0.91,0,0,1,44.658,0)" >Jumper Shunt</text>
<text x="496.2" y="460.1" font-size="6.6" fill="#1a1a1a" text-anchor="start" style="font-family:&quot;Liberation Sans&quot;" stroke="#1a1a1a" stroke-width="0.12" transform="matrix(0.91,0,0,1,44.658,0)" >NI</text>
<polygon points="1032.5,328.2 1036,325.6 1036,330.8" fill="#111"/>
<polygon points="2.5,328.2 0,326.2 0,330.2" fill="#111"/>
<line x1="105.4" y1="0" x2="106.6" y2="1.6" stroke="#555" stroke-width="1.0"/>
<line x1="105.4" y1="656.4" x2="106.6" y2="658" stroke="#555" stroke-width="1.0"/>
<line x1="312.09999999999997" y1="0" x2="313.3" y2="1.6" stroke="#555" stroke-width="1.0"/>
<line x1="312.09999999999997" y1="656.4" x2="313.3" y2="658" stroke="#555" stroke-width="1.0"/>
<line x1="517.9" y1="0" x2="519.1" y2="1.6" stroke="#555" stroke-width="1.0"/>
<line x1="517.9" y1="656.4" x2="519.1" y2="658" stroke="#555" stroke-width="1.0"/>
<line x1="723.6999999999999" y1="0" x2="724.9" y2="1.6" stroke="#555" stroke-width="1.0"/>
<line x1="723.6999999999999" y1="656.4" x2="724.9" y2="658" stroke="#555" stroke-width="1.0"/>
<line x1="929.4" y1="0" x2="930.6" y2="1.6" stroke="#555" stroke-width="1.0"/>
<line x1="929.4" y1="656.4" x2="930.6" y2="658" stroke="#555" stroke-width="1.0"/>
<line x1="1032.5" y1="586" x2="1032.5" y2="655" stroke="#000" stroke-width="1.6"/>
<rect x="1034" y="410.5" width="2" height="3.5" fill="#3a5a9a" opacity="0.8"/>
<rect x="1034.5" y="574.5" width="1.5" height="3" fill="#3a5a9a" opacity="0.6"/>
<circle cx="232.2" cy="184.3" r="2.1" fill="#ff00ff"/>
<circle cx="187.4" cy="211.8" r="2.1" fill="#ff00ff"/>
<circle cx="207.7" cy="211.8" r="2.1" fill="#ff00ff"/>
<circle cx="252.4" cy="211.8" r="2.1" fill="#ff00ff"/>
<circle cx="207.7" cy="242.5" r="2.1" fill="#ff00ff"/>
</svg></body></html>
